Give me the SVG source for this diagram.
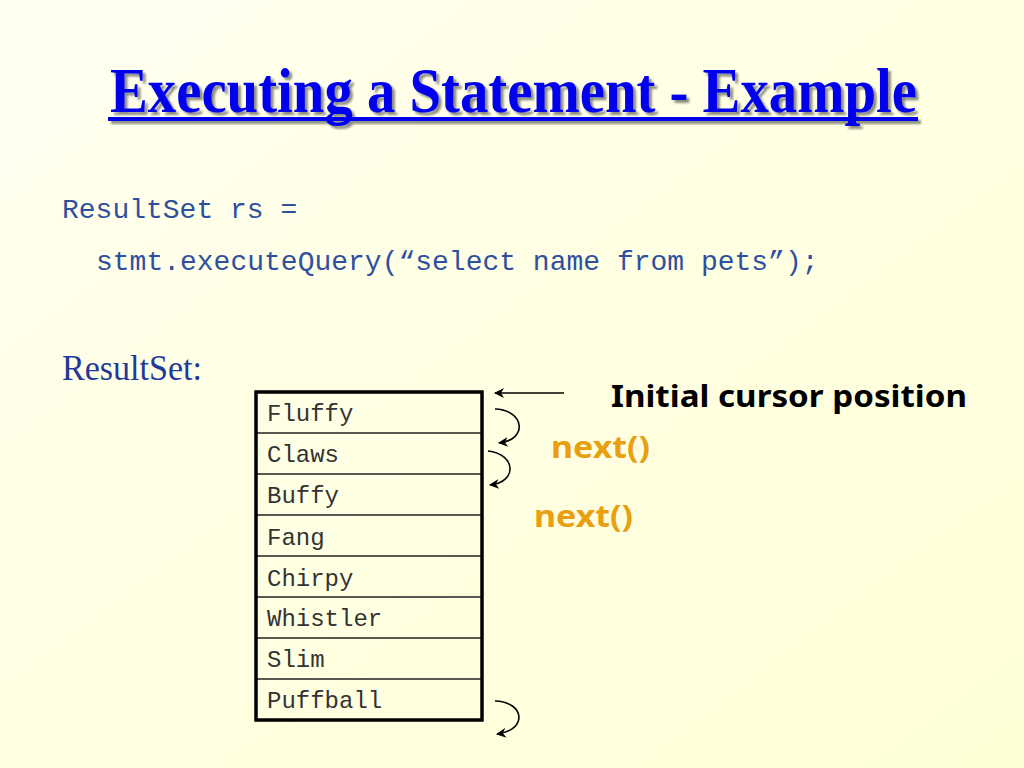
<svg xmlns="http://www.w3.org/2000/svg" width="1024" height="768" viewBox="0 0 1024 768">
<defs>
<linearGradient id="bg" x1="0" y1="0" x2="1" y2="1">
<stop offset="0" stop-color="#FFFFF0"/>
<stop offset="1" stop-color="#FFFFD6"/>
</linearGradient>
<marker id="ah" viewBox="0 0 10 10" refX="9" refY="5" markerWidth="10" markerHeight="10" markerUnits="userSpaceOnUse" orient="auto">
<path d="M0,0 L10,5 L0,10 L3,5 Z" fill="#000"/>
</marker>
<filter id="sh" x="-5%" y="-20%" width="110%" height="140%">
<feGaussianBlur in="SourceAlpha" stdDeviation="1"/>
<feOffset dx="3" dy="3"/>
<feComponentTransfer><feFuncA type="linear" slope="0.45"/></feComponentTransfer>
<feMerge><feMergeNode/><feMergeNode in="SourceGraphic"/></feMerge>
</filter>
<style>
.title{font-family:"Liberation Serif","Times New Roman",serif;font-weight:bold;font-size:63px;fill:#0000EE;}
.code{font-family:"Liberation Mono","Courier New",monospace;font-size:28px;fill:#2F4F9F;}
.lbl{font-family:"Liberation Serif","Times New Roman",serif;font-size:36px;fill:#1F3A9A;}
.cell{font-family:"Liberation Mono","Courier New",monospace;font-size:24px;fill:#333;}
.note{font-family:"Noto Sans","DejaVu Sans",sans-serif;font-weight:bold;font-size:30px;}
.row{fill:none;stroke:#222;stroke-width:1.5;}
.arr{fill:none;stroke:#000;stroke-width:1.6;marker-end:url(#ah);}
</style>
</defs>
<rect width="1024" height="768" fill="url(#bg)"/>
<g id="title" filter="url(#sh)">
<text class="title" x="110" y="112" textLength="807" lengthAdjust="spacingAndGlyphs">Executing a Statement - Example</text>
<rect x="108" y="117" width="810" height="4" fill="#0000EE"/>
</g>
<g id="code">
<text class="code" x="62" y="218">ResultSet rs =</text>
<text class="code" x="96" y="270">stmt.executeQuery(“select name from pets”);</text>
</g>
<g id="resultset-label">
<text class="lbl" x="62" y="380" textLength="140" lengthAdjust="spacingAndGlyphs">ResultSet:</text>
</g>
<g id="table">
<line class="row" x1="256" y1="433" x2="482" y2="433"/>
<line class="row" x1="256" y1="474" x2="482" y2="474"/>
<line class="row" x1="256" y1="515" x2="482" y2="515"/>
<line class="row" x1="256" y1="556" x2="482" y2="556"/>
<line class="row" x1="256" y1="597" x2="482" y2="597"/>
<line class="row" x1="256" y1="638" x2="482" y2="638"/>
<line class="row" x1="256" y1="679" x2="482" y2="679"/>
<rect x="256" y="392" width="226" height="328" fill="none" stroke="#000" stroke-width="3.5"/>
<text class="cell" x="267" y="421">Fluffy</text>
<text class="cell" x="267" y="462">Claws</text>
<text class="cell" x="267" y="503">Buffy</text>
<text class="cell" x="267" y="545">Fang</text>
<text class="cell" x="267" y="586">Chirpy</text>
<text class="cell" x="267" y="626">Whistler</text>
<text class="cell" x="267" y="667">Slim</text>
<text class="cell" x="267" y="708">Puffball</text>
</g>
<g id="connectors">
<line class="arr" x1="564" y1="393" x2="495" y2="393"/>
<path class="arr" d="M495,409 C525,410 528,440 499,443"/>
<path class="arr" d="M488,451 C516,454 518,482 490,485"/>
<path class="arr" d="M495,701 C525,702 528,730 497,734"/>
</g>
<g id="labels">
<text class="note" x="611" y="407" fill="#000" textLength="356" lengthAdjust="spacingAndGlyphs">Initial cursor position</text>
<text class="note" x="551" y="458" fill="#E8A010" textLength="99" lengthAdjust="spacingAndGlyphs">next()</text>
<text class="note" x="534" y="527" fill="#E8A010" textLength="99" lengthAdjust="spacingAndGlyphs">next()</text>
</g>
</svg>
